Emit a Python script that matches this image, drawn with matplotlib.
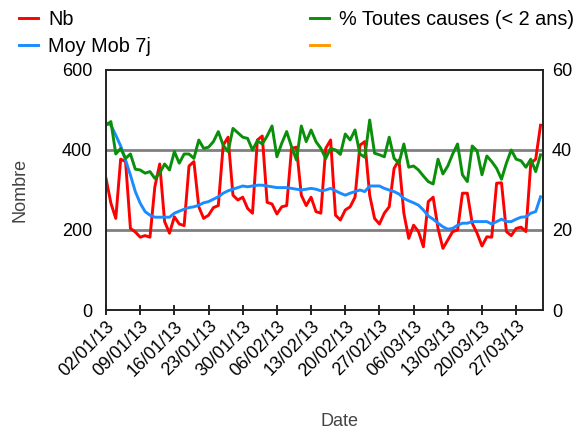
import numpy as np
import pandas as pd
import matplotlib
matplotlib.use("Agg")
import matplotlib.pyplot as plt
import matplotlib.dates as mdates

plt.rcParams['font.family'] = ['Liberation Sans', 'DejaVu Sans']

# === Data ===
start_date = "2013-01-02"
n_days = 90

nb = [329, 267, 229, 377, 371, 204, 195, 182, 186, 182,
      308, 365, 221, 192, 233, 215, 211, 360, 371, 258,
      229, 237, 256, 261, 412, 432, 287, 275, 282, 254,
      242, 425, 435, 269, 265, 240, 258, 261, 404, 407,
      287, 261, 282, 246, 242, 404, 425, 237, 225, 250,
      258, 282, 412, 421, 287, 229, 215, 242, 258, 354,
      375, 242, 179, 212, 196, 158, 271, 282, 204, 154,
      175, 196, 200, 292, 292, 217, 192, 160, 183, 182,
      317, 318, 196, 186, 204, 207, 196, 367, 377, 462]

moy_mob = [468, 462, 437, 410, 375, 337, 296, 267, 246, 237,
           232, 232, 232, 232, 242, 247, 252, 256, 258, 262,
           268, 271, 277, 283, 292, 298, 302, 306, 310, 308,
           310, 312, 312, 310, 308, 306, 306, 306, 304, 302,
           300, 302, 304, 302, 298, 300, 304, 298, 292, 287,
           292, 296, 300, 296, 310, 310, 310, 304, 300, 296,
           290, 279, 273, 268, 262, 250, 235, 227, 217, 208,
           202, 204, 212, 217, 217, 221, 221, 221, 221, 215,
           221, 227, 221, 221, 227, 232, 233, 242, 246, 283]

pct_toutes = [46.2, 47.1, 39.0, 40.4, 37.9, 39.0, 35.2, 35.0, 34.2, 34.6,
              32.9, 34.2, 36.5, 35.0, 39.6, 36.7, 39.0, 39.0, 37.9, 42.5,
              40.4, 40.7, 42.1, 44.6, 41.2, 39.6, 45.4, 44.3, 43.2, 42.9,
              40.0, 42.3, 41.5, 43.5, 46.0, 38.3, 41.7, 44.6, 40.8, 37.5,
              46.0, 42.1, 45.0, 42.1, 40.4, 37.9, 40.4, 40.0, 38.9, 44.0,
              42.5, 45.0, 39.0, 38.2, 47.5, 39.2, 38.8, 38.3, 43.2, 37.9,
              36.7, 41.5, 35.7, 36.0, 35.0, 33.5, 32.1, 31.5, 37.7, 34.0,
              36.0, 39.0, 41.5, 33.8, 32.1, 41.0, 39.8, 33.8, 38.5, 37.1,
              35.4, 32.7, 36.7, 40.0, 37.7, 37.3, 35.7, 37.7, 34.6, 38.8]

dates = pd.date_range(start_date, periods=n_days, freq="D")
tick_dates = pd.date_range("2013-01-02", "2013-03-27", freq="7D")

RED = "#ff0000"
BLUE = "#1a8cff"
GREEN = "#0a8f0a"
ORANGE = "#ff9900"

fig = plt.figure(figsize=(5.74, 4.32), dpi=100)
ax = fig.add_axes([0.1847, 0.2824, 0.7613, 0.5556])
ax2 = ax.twinx()

ax.axhline(200, color="#808080", lw=2, zorder=0)
ax.axhline(400, color="#808080", lw=2, zorder=0)

l_nb, = ax.plot(dates, nb, color=RED, lw=2.1, label="Nb")
l_mm, = ax.plot(dates, moy_mob, color=BLUE, lw=2.1, label="Moy Mob 7j")
l_pc, = ax2.plot(dates, pct_toutes, color=GREEN, lw=2.1, label="% Toutes causes (< 2 ans)")
l_or, = ax2.plot([], [], color=ORANGE, lw=2.1, label=" ")

ax.set_ylim(0, 600)
ax2.set_ylim(0, 60)
ax.set_yticks([0, 200, 400, 600])
ax2.set_yticks([0, 20, 40, 60])
ax.set_xlim(dates[0], dates[-1] + pd.Timedelta(hours=12))

ax.set_xticks(tick_dates)
ax.xaxis.set_major_formatter(mdates.DateFormatter("%d/%m/%y"))
for lbl in ax.get_xticklabels():
    lbl.set_rotation(45)
    lbl.set_ha("right")
    lbl.set_rotation_mode("anchor")

ax.tick_params(axis="x", direction="inout", length=7, width=1.2, labelsize=13, pad=2)
ax.tick_params(axis="y", length=0, labelsize=13, pad=10)
ax2.tick_params(axis="y", length=0, labelsize=13, pad=6.5)

for a in (ax, ax2):
    for sp in a.spines.values():
        sp.set_linewidth(1.2)
        sp.set_color("#222222")

ax.set_ylabel("Nombre", fontsize=13, color="#444444")
ax.yaxis.set_label_coords(-0.178, 0.5)
ax.set_xlabel("Date", fontsize=13, color="#444444")
ax.xaxis.set_label_coords(0.535, -0.43)

fig.legend([l_nb, l_mm, l_pc, l_or],
           ["Nb", "Moy Mob 7j", "% Toutes causes (< 2 ans)", ""],
           ncol=2, loc="upper left", bbox_to_anchor=(0.013, 1.005),
           frameon=False, fontsize=14.3, handlelength=0.95, handletextpad=0.5,
           columnspacing=8.0, labelspacing=0.4, borderaxespad=0.2)

fig.savefig("out.png", dpi=100)
